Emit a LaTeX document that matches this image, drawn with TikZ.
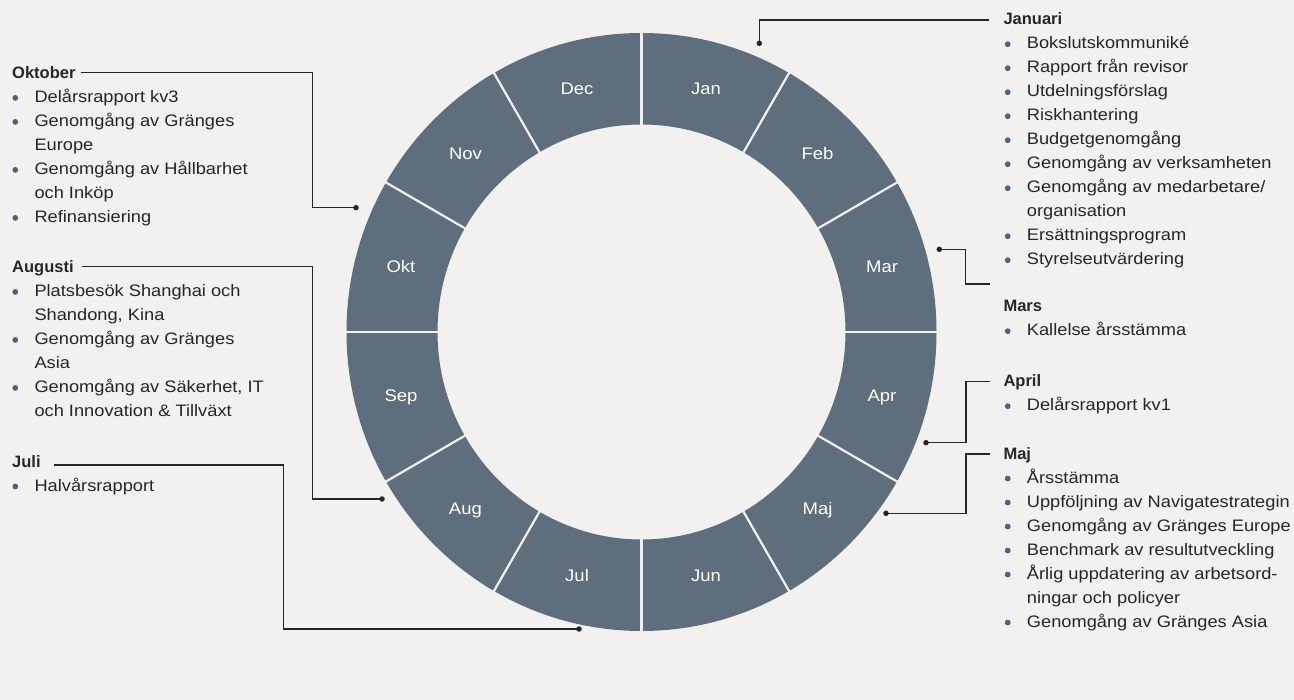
\documentclass[tikz,border=0pt]{standalone}
\usepackage{fontspec}
\setmainfont{Liberation Sans}[FakeStretch=1.1]
\newfontfamily\headfont{Liberation Sans}
\usetikzlibrary{calc}
\definecolor{paper}{HTML}{F2F1EF}
\definecolor{ringc}{HTML}{5F6E7D}
\definecolor{ink}{HTML}{262626}
\definecolor{dotc}{HTML}{4F6173}
\tikzset{
  monthhead/.style={anchor=base west, inner sep=0pt, text=ink, font=\headfont\bfseries\fontsize{16.5}{20}\selectfont},
  entry/.style={anchor=base west, inner sep=0pt, text=ink, font=\fontsize{16.6}{24}\selectfont},
  month/.style={text=white, inner sep=0pt, font=\fontsize{16.8}{20}\selectfont},
  lead/.style={draw=ink, line width=1.3pt},
  pin/.style={circle, fill=ink, inner sep=0pt, minimum size=5.5pt},
  sep/.style={draw=paper, line width=2.2pt}
}
% one line per entry, b = bulleted, c = continued
\newcommand\entries[4]{%
  \foreach \k/\t [count=\i] in {#4} {
    \node[entry] (#1\i) at (#2,{-#3-24*(\i-1)}) {\t};
    \if b\k \fill[dotc] ([shift={(-19pt,4.8pt)}]#1\i.base west) circle (2.9pt); \fi
  }}

\begin{document}
\begin{tikzpicture}[x=1pt,y=1pt]
  \useasboundingbox (0,0) rectangle (1294,-700);
  \fill[paper] (0,0) rectangle (1294,-700);

  % the year ring
  \begin{scope}[shift={(641.5,-332)}]
    \fill[ringc, even odd rule] (0,0) ellipse [x radius=295pt, y radius=299pt]
      (0,0) ellipse [x radius=204pt, y radius=207.5pt];
    \foreach \a in {0,30,...,330}
      \draw[sep] (\a:202pt and 205.5pt) -- (\a:297pt and 301pt);
    \foreach \m [count=\i, evaluate=\i as \a using 105-30*\i] in {Jan,Feb,Mar,Apr,Maj,Jun,Jul,Aug,Sep,Okt,Nov,Dec}
      \node[month] (m\m) at (\a:249pt and 252pt) {\m};
  \end{scope}

  % left column
  \node[monthhead] (okthead) at (12,-78.7) {Oktober};
  \entries{okt}{34.3}{102.7}{b/Delårsrapport kv3, b/Genomgång av Gränges, c/Europe, b/Genomgång av Hållbarhet, c/och Inköp, b/Refinansiering}
  \node[monthhead] (aughead) at (12,-272.7) {Augusti};
  \entries{aug}{34.3}{296.7}{b/Platsbesök Shanghai och, c/{Shandong, Kina}, b/Genomgång av Gränges, c/Asia, b/{Genomgång av Säkerhet, IT}, c/{och Innovation \& Tillväxt}}
  \node[monthhead] (julhead) at (12,-467.3) {Juli};
  \entries{jul}{34.3}{491.3}{b/Halvårsrapport}

  % right column
  \node[monthhead] (janhead) at (1003.3,-25) {Januari};
  \entries{jan}{1026.7}{49}{b/Bokslutskommuniké, b/Rapport från revisor, b/Utdelningsförslag, b/Riskhantering, b/Budgetgenomgång, b/Genomgång av verksamheten, b/{Genomgång av medarbetare/}, c/organisation, b/Ersättningsprogram, b/Styrelseutvärdering}
  \node[monthhead] (marhead) at (1003.3,-312) {Mars};
  \entries{mar}{1026.7}{336}{b/Kallelse årsstämma}
  \node[monthhead] (aprhead) at (1003.3,-387) {April};
  \entries{apr}{1026.7}{411}{b/Delårsrapport kv1}
  \node[monthhead] (majhead) at (1003.3,-459.3) {Maj};
  \entries{maj}{1026.7}{483.3}{b/Årsstämma, b/Uppföljning av Navigatestrategin, b/Genomgång av Gränges Europe, b/Benchmark av resultutveckling, b/Årlig uppdatering av arbetsord-, c/ningar och policyer, b/Genomgång av Gränges Asia}

  % pins on the ring and their leaders
  \node[pin] (jandot) at (759.3,-43.3) {};
  \node[pin] (mardot) at (939.3,-249.3) {};
  \node[pin] (aprdot) at (926,-442.7) {};
  \node[pin] (majdot) at (886,-513.3) {};
  \node[pin] (oktdot) at (356,-207.7) {};
  \node[pin] (augdot) at (382,-499) {};
  \node[pin] (juldot) at (579,-629) {};
  \coordinate (janend) at (989,-20);
  \coordinate (marend) at (990,-284);
  \coordinate (aprend) at (990,-381.7);
  \coordinate (majend) at (990,-454);
  \coordinate (oktend) at (81,-72.7);
  \coordinate (augend) at (81.7,-266.7);
  \coordinate (julend) at (54,-465);

  \draw[lead] (jandot.center) |- (janend);
  \draw[lead] (mardot.center) -| ([xshift=-24.3pt]marend) -- (marend);
  \draw[lead] (aprdot.center) -| ([xshift=-24pt]aprend) -- (aprend);
  \draw[lead] (majdot.center) -| ([xshift=-24pt]majend) -- (majend);
  \draw[lead] (oktend) -| ([xshift=-43.7pt]oktdot.center) -- (oktdot.center);
  \draw[lead] (augend) -| ([xshift=-69.7pt]augdot.center) -- (augdot.center);
  \draw[lead] (julend) -| ([xshift=-295.7pt]juldot.center) -- (juldot.center);
\end{tikzpicture}
\end{document}
